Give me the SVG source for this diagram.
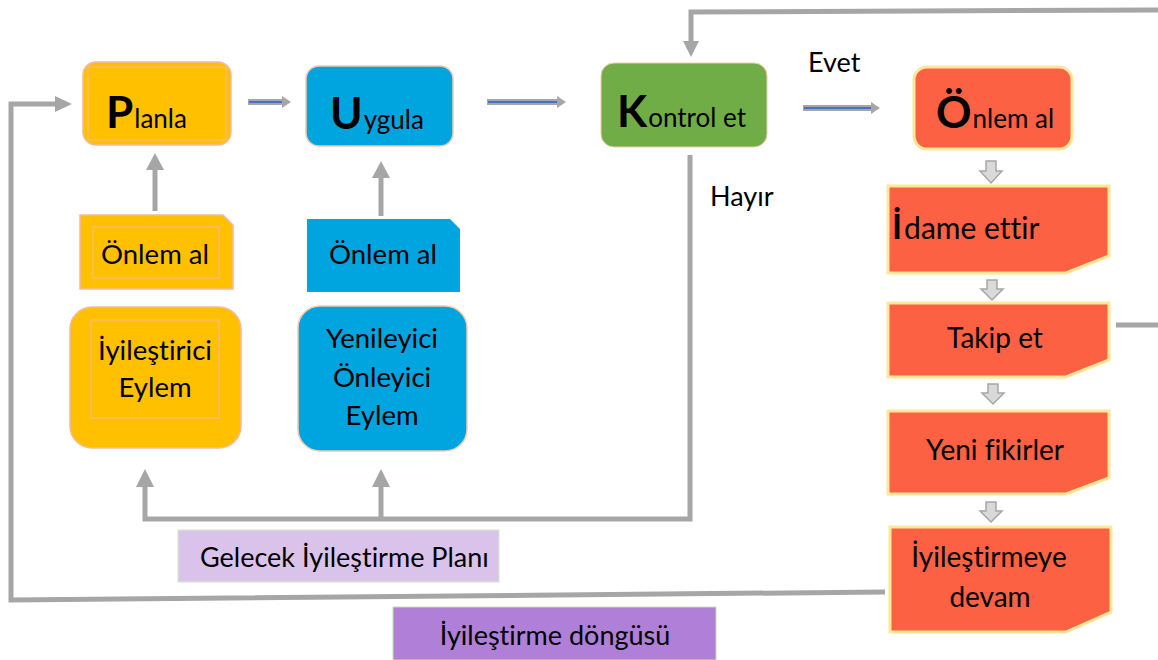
<svg xmlns="http://www.w3.org/2000/svg" width="1158" height="660" viewBox="0 0 1158 660">
<defs>
<style>
text{font-family:Lato,"Open Sans","Liberation Sans",sans-serif;fill:#000;font-variant-ligatures:none;font-feature-settings:"liga" 0}
.t{font-size:26px}
.t2{font-size:27.5px}
.big{font-size:44px;font-weight:bold}
.sm{font-size:28px}
.lbl{font-size:27px}
.y{fill:#FFC000;stroke:#F4B9A0;stroke-width:1.5}
.b{fill:#00A4DF;stroke:#F4C9A8;stroke-width:1.5}
.g{fill:#70AD47;stroke:#F4C9A8;stroke-width:1}
.r{fill:#FB6142;stroke:#FFE699;stroke-width:3}
.inner{fill:none;stroke:#F4B9A0;stroke-width:1}
.con{fill:none;stroke:#A6A6A6;stroke-width:5}
.head{fill:#A6A6A6}
.blue{stroke:#4472C4;stroke-width:2}
.blk{fill:#D9D9D9;stroke:#A6A6A6;stroke-width:1.5}
</style>
</defs>
<rect width="1158" height="660" fill="#fff"/>

<g id="connectors">
  <line x1="248" y1="102" x2="284" y2="102" stroke="#A6A6A6" stroke-width="6"/>
  <line x1="249" y1="102" x2="283" y2="102" class="blue"/>
  <polygon points="282,96 291,102 282,108" class="head"/>
  <line x1="487" y1="102" x2="558" y2="102" stroke="#A6A6A6" stroke-width="6"/>
  <line x1="488" y1="102" x2="557" y2="102" class="blue"/>
  <polygon points="557,96 566,102 557,108" class="head"/>
  <line x1="803" y1="108" x2="872" y2="108" stroke="#A6A6A6" stroke-width="6"/>
  <line x1="804" y1="108" x2="871" y2="108" class="blue"/>
  <polygon points="871,102 880,108 871,114" class="head"/>
  <line x1="155" y1="211" x2="155" y2="168" class="con"/>
  <polygon points="146,170 155,153 164,170" class="head"/>
  <line x1="381" y1="216" x2="381" y2="176" class="con"/>
  <polygon points="372,178 381,161 390,178" class="head"/>
  <polyline points="690,155 690,519 145,519 145,485" class="con"/>
  <line x1="381" y1="519" x2="381" y2="485" class="con"/>
  <polygon points="136,487 145,469 154,487" class="head"/>
  <polygon points="372,487 381,469 390,487" class="head"/>
  <polyline points="885,592 11,600 11,104 58,104" class="con"/>
  <polygon points="55,96 72,104 55,112" class="head"/>
  <polyline points="1158,10 691,12 691,42" class="con"/>
  <polygon points="683,41 691,57 699,41" class="head"/>
  <line x1="1116" y1="325" x2="1158" y2="325" class="con"/>
  <polygon points="986,161 996,161 996,171 1002,171 991,183 980,171 986,171" class="blk"/>
  <polygon points="987,280 997,280 997,289 1003,289 992,300 981,289 987,289" class="blk"/>
  <polygon points="988,384 998,384 998,393 1004,393 993,404 982,393 988,393" class="blk"/>
  <polygon points="986,502 996,502 996,511 1002,511 991,522 980,511 986,511" class="blk"/>
</g>

<g id="planla">
  <rect x="83" y="62" width="148" height="83" rx="13" class="y"/>
  <rect x="88" y="67" width="138" height="73" class="inner"/>
  <text x="106" y="128"><tspan class="big">P</tspan><tspan class="t" dx="1">lanla</tspan></text>
</g>
<g id="uygula">
  <rect x="306" y="66" width="147" height="80" rx="13" class="b"/>
  <text x="330" y="129"><tspan class="big">U</tspan><tspan class="t" dx="1">ygula</tspan></text>
</g>
<g id="kontrol">
  <rect x="601" y="63" width="166" height="84" rx="13" class="g"/>
  <text x="617" y="127"><tspan class="big">K</tspan><tspan class="t" dx="1">ontrol et</tspan></text>
</g>
<g id="onlem-red">
  <rect x="914" y="67" width="158" height="82" rx="13" class="r" stroke-width="1.5"/>
  <text x="936" y="128"><tspan class="big">Ö</tspan><tspan class="t" dx="1">nlem al</tspan></text>
</g>

<g id="onlem-yellow">
  <path d="M80,215 H223 L233,225 V289 H80 Z" class="y"/>
  <rect x="93" y="227" width="126" height="51" class="inner"/>
  <text x="155" y="264" class="t2" text-anchor="middle">Önlem al</text>
</g>
<g id="onlem-blue">
  <path d="M307,219 H450 L460,229 V292 H307 Z" fill="#00A4DF"/>
  <text x="383" y="264" class="t2" text-anchor="middle">Önlem al</text>
</g>

<g id="iyilestirici">
  <rect x="70" y="307" width="171" height="141" rx="22" class="y"/>
  <rect x="91" y="320" width="128" height="98" class="inner"/>
  <text x="155" y="360" class="t2" text-anchor="middle">İyileştirici</text>
  <text x="155" y="397" class="t2" text-anchor="middle">Eylem</text>
</g>
<g id="yenileyici">
  <rect x="298" y="306" width="169" height="145" rx="22" class="b"/>
  <text x="382" y="348" class="t2" text-anchor="middle">Yenileyici</text>
  <text x="382" y="387" class="t2" text-anchor="middle">Önleyici</text>
  <text x="382" y="425" class="t2" text-anchor="middle">Eylem</text>
</g>

<g id="evet"><text x="808" y="72" class="lbl">Evet</text></g>
<g id="hayir"><text x="710" y="206" class="lbl">Hayır</text></g>

<g id="idame">
  <path d="M888,186 H1109 V256 L1066,273 H888 Z" class="r"/>
  <text x="892" y="239"><tspan font-size="34" font-weight="bold">İ</tspan><tspan font-size="30" dx="2">dame ettir</tspan></text>
</g>
<g id="takip">
  <path d="M888,303 H1109 V360 L1066,377 H888 Z" class="r"/>
  <text x="995" y="348" class="sm" text-anchor="middle">Takip et</text>
</g>
<g id="yeni">
  <path d="M888,411 H1109 V478 L1066,494 H888 Z" class="r"/>
  <text x="995" y="460" class="sm" text-anchor="middle">Yeni fikirler</text>
</g>
<g id="devam">
  <path d="M890,527 H1111 V612 L1066,632 H890 Z" class="r"/>
  <text x="989" y="567" class="sm" text-anchor="middle">İyileştirmeye</text>
  <text x="990" y="607" class="sm" text-anchor="middle">devam</text>
</g>

<g id="gelecek">
  <rect x="178" y="530" width="321" height="52" fill="#DAC3EB" stroke="#D5E8CF" stroke-width="1"/>
  <text x="200" y="567" class="lbl">Gelecek İyileştirme Planı</text>
</g>
<g id="dongu">
  <rect x="393" y="607" width="323" height="53" fill="#B07FD7" stroke="#C5E0B4" stroke-width="1"/>
  <text x="555" y="645" class="lbl" text-anchor="middle">İyileştirme döngüsü</text>
</g>
</svg>
